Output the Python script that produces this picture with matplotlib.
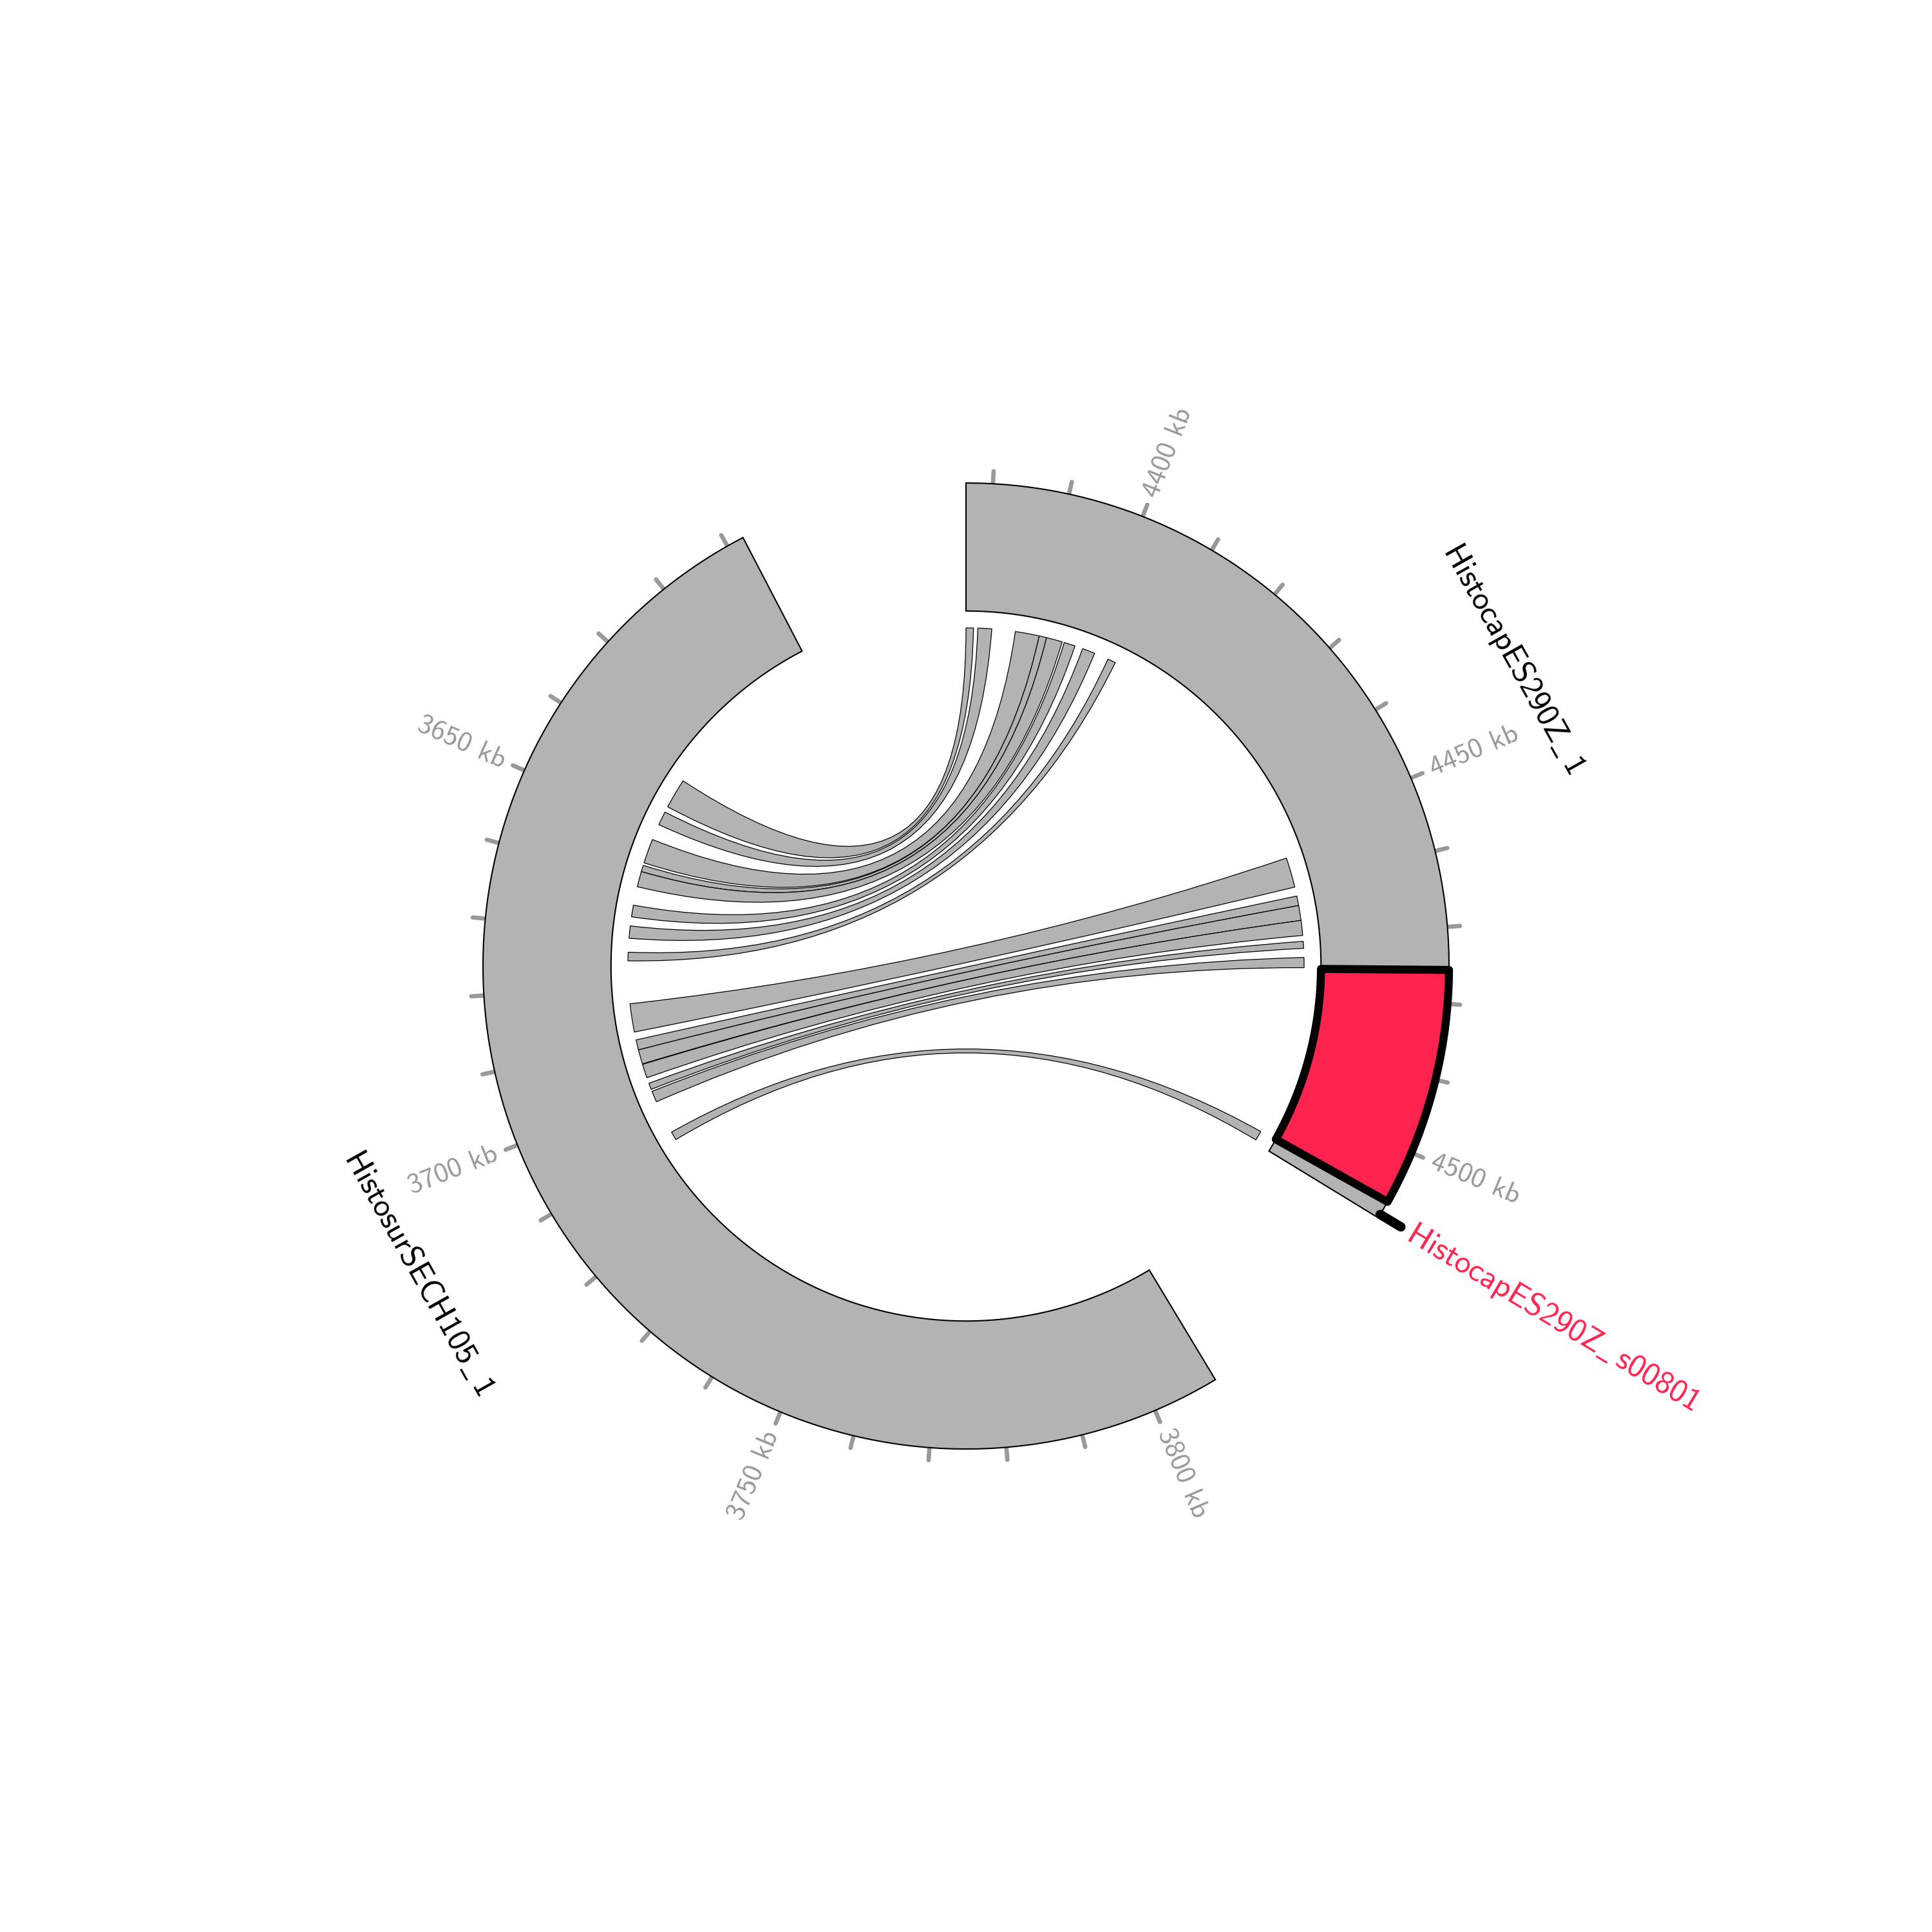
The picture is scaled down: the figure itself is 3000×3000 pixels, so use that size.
import numpy as np
import matplotlib.pyplot as plt
from matplotlib.path import Path
from matplotlib.patches import PathPatch

plt.rcParams['mathtext.fontset'] = 'cm'
plt.rcParams['font.family'] = 'cmss10'

# sequences shown on the circle (kb)
seq_names = ['HistocapES290Z_1', 'HistosurSECH105_1']
seq_start = [4376.5, 3607.7]
seq_end = [4509.5, 3808.8]
seq_reversed = [False, True]
gap_deg = 27.5

# highlighted contig
hl_name = 'HistocapES290Z_s00801'
hl_start = 4475.6
hl_end = 4507.1
hl_mark = 4509.0

# links: HistocapES290Z_1 (start, end) -> HistosurSECH105_1 (start, end)
link_a_start = [4376.5, 4378.7, 4385.7, 4390.2, 4391.6, 4395.0, 4398.6, 4403.7,
                4454.7, 4462.0, 4463.8, 4466.6, 4470.5, 4473.5, 4507.2]
link_a_end = [4377.9, 4381.3, 4390.2, 4391.6, 4394.6, 4397.1, 4401.0, 4405.2,
              4460.3, 4463.8, 4466.6, 4469.4, 4471.8, 4475.4, 4509.0]
link_b_start = [3639.8, 3646.5, 3652.1, 3657.2, 3658.4, 3664.8, 3668.7, 3673.6,
                3683.2, 3690.0, 3691.9, 3694.7, 3698.4, 3700.0, 3708.4]
link_b_end = [3645.4, 3649.1, 3656.7, 3658.4, 3661.3, 3667.0, 3671.0, 3675.2,
              3688.5, 3691.9, 3694.6, 3697.3, 3699.6, 3702.1, 3710.0]

GRAY = '#B3B3B3'
RED = '#FF2450'
TICK = '#999999'
R_OUT, R_IN, R_LINK = 1.0, 0.735, 0.70

lengths = [e - s for s, e in zip(seq_start, seq_end)]
deg_per_kb = (360 - gap_deg * len(seq_names)) / sum(lengths)
offsets = []
acc = 0
for L in lengths:
    offsets.append(acc)
    acc += L * deg_per_kb + gap_deg


def to_angle(i, kb):
    if seq_reversed[i]:
        return offsets[i] + (seq_end[i] - kb) * deg_per_kb
    return offsets[i] + (kb - seq_start[i]) * deg_per_kb


def xy(r, b):
    b = np.radians(b)
    return r * np.sin(b), r * np.cos(b)


def arc(r, b0, b1, n=200):
    bb = np.linspace(b0, b1, n)
    return np.column_stack(xy(r, bb))


def sector(ax, b0, b1, **kw):
    pts = np.vstack([arc(R_OUT, b0, b1), arc(R_IN, b1, b0)])
    ax.fill(pts[:, 0], pts[:, 1], **kw)


def label_text(s):
    # underscore via mathtext, the rest as plain cmss10 text
    return s.replace('_', r'$\_\,$')


fig = plt.figure(figsize=(10, 10), dpi=300)
ax = fig.add_axes([0, 0, 1, 1])
ax.set_xlim(-2, 2)
ax.set_ylim(-2, 2)
ax.set_aspect('equal')
ax.axis('off')

# ring segments, ticks, labels
for i, name in enumerate(seq_names):
    b0 = to_angle(i, seq_start[i])
    b1 = to_angle(i, seq_end[i])
    lo, hi = min(b0, b1), max(b0, b1)
    sector(ax, lo, hi, facecolor=GRAY, edgecolor='black', lw=0.5, zorder=2)

    for kb in range(int(np.ceil(seq_start[i] / 10) * 10), int(seq_end[i]) + 1, 10):
        b = to_angle(i, kb)
        (x0, y0), (x1, y1) = xy(R_OUT, b), xy(R_OUT * 1.026, b)
        ax.plot([x0, x1], [y0, y1], color=TICK, lw=1.6, solid_capstyle='round', zorder=1)
        if kb % 50 == 0:
            th = 90 - b
            tx, ty = xy(R_OUT * 1.045, b)
            if np.cos(np.radians(th)) >= 0:
                rot, ha = th, 'left'
            else:
                rot, ha = th + 180, 'right'
            rot = (rot + 180) % 360 - 180
            ax.text(tx, ty, '%d kb' % kb, color=TICK, fontsize=10.5,
                    rotation=rot, ha=ha, va='center', rotation_mode='anchor')

    mid = (lo + hi) / 2
    rot = (-mid + 90) % 180 - 90
    lx, ly = xy(1.30, mid)
    ax.text(lx, ly, label_text(name), fontsize=12,
            rotation=rot, ha='center', va='center', rotation_mode='anchor')

# links
for a0, a1, q0, q1 in zip(link_a_start, link_a_end, link_b_start, link_b_end):
    pa0, pa1 = to_angle(0, a0), to_angle(0, a1)
    pb0, pb1 = to_angle(1, q0), to_angle(1, q1)
    arc_a = arc(R_LINK, pa0, pa1, 60)
    arc_b = arc(R_LINK, pb1, pb0, 60)
    verts = list(arc_a) + [(0, 0), arc_b[0]] + list(arc_b[1:]) + [(0, 0), arc_a[0]]
    codes = ([Path.MOVETO] + [Path.LINETO] * (len(arc_a) - 1) + [Path.CURVE3, Path.CURVE3]
             + [Path.LINETO] * (len(arc_b) - 1) + [Path.CURVE3, Path.CURVE3])
    ax.add_patch(PathPatch(Path(verts, codes), facecolor=GRAY, edgecolor='black',
                           lw=0.3, zorder=3))

# highlighted contig
sector(ax, to_angle(0, hl_start), to_angle(0, hl_end), facecolor=RED, edgecolor='black',
       lw=3, joinstyle='round', zorder=4)
bm = to_angle(0, hl_mark)
(x0, y0), (x1, y1) = xy(R_OUT, bm), xy(R_OUT * 1.05, bm)
ax.plot([x0, x1], [y0, y1], color='black', lw=3.5, solid_capstyle='round', zorder=5)
tx, ty = xy(1.07, bm)
ax.text(tx, ty, label_text(hl_name), color=RED, fontsize=12,
        rotation=90 - bm, ha='left', va='center', rotation_mode='anchor')

fig.savefig('out.png', dpi=300)
